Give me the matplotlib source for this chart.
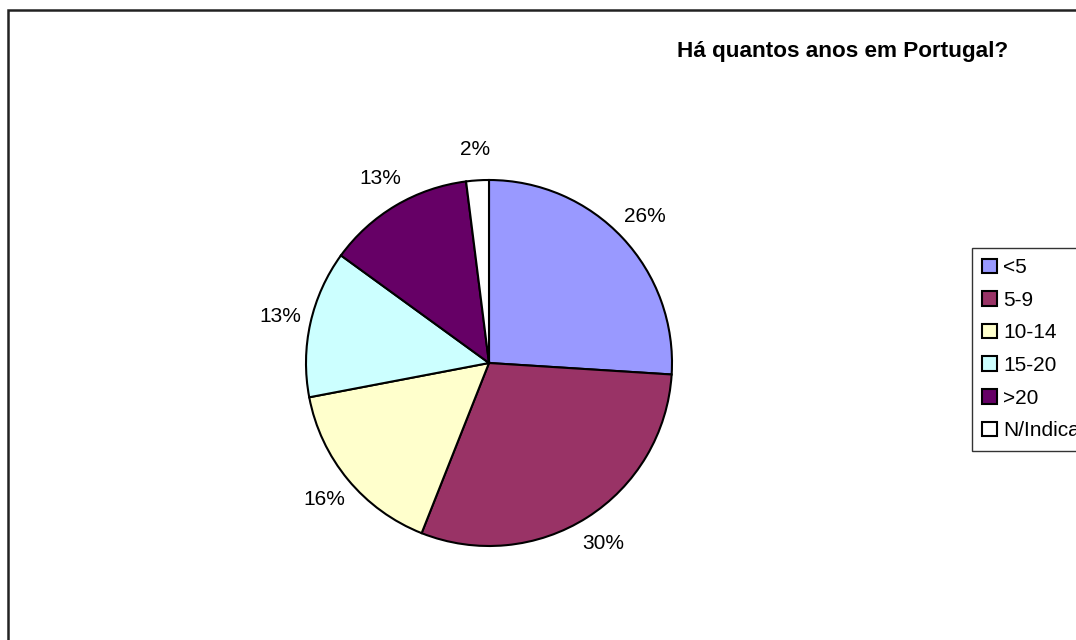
import matplotlib.pyplot as plt
from matplotlib.patches import Rectangle, Patch

plt.rcParams['font.family'] = ['Liberation Sans', 'DejaVu Sans']

categories = ['<5', '5-9', '10-14', '15-20', '>20', 'N/Indicado']
shares = [26, 30, 16, 13, 13, 2]
colors = ['#9999FF', '#993366', '#FFFFCC', '#CCFFFF', '#660066', '#FFFFFF']

W, H = 1076, 640
fig = plt.figure(figsize=(W / 100, H / 100), dpi=100)

# chart area border, running off the right and bottom edges
fig.patches.append(Rectangle((8 / W, -0.1), 1.2, 1 - 10 / H + 0.1,
                             transform=fig.transFigure, fill=False,
                             edgecolor='#222222', linewidth=1.8, zorder=0))

# pie centred at (489, 363) px with radius 183 px
cx, cy, r = 489, 363, 183
ax = fig.add_axes([(cx - r) / W, (H - cy - r) / H, 2 * r / W, 2 * r / H])
wedges, texts, autotexts = ax.pie(
    shares, colors=colors, startangle=90, counterclock=False,
    autopct=lambda p: f'{p:.0f}%', pctdistance=1.17,
    wedgeprops=dict(edgecolor='black', linewidth=1.5),
    textprops=dict(fontsize=15, color='black'))
for t in autotexts:
    t.set_clip_on(False)
ax.set_xlim(-1, 1)
ax.set_ylim(-1, 1)
ax.axis('off')

fig.text(843 / W, 1 - 52 / H, 'Há quantos anos em Portugal?',
         fontsize=16.2, fontweight='bold', ha='center', va='center')

handles = [Patch(facecolor=c, edgecolor='black', linewidth=1.5) for c in colors]
leg = fig.legend(handles, categories, loc='upper left',
                 bbox_to_anchor=(972 / W, 1 - 248 / H),
                 fontsize=15, frameon=True, fancybox=False, shadow=False,
                 handlelength=0.7, handleheight=0.7, handletextpad=0.3,
                 labelspacing=0.65, borderpad=0.5, borderaxespad=0)
leg.get_frame().set_edgecolor('black')
leg.get_frame().set_linewidth(1.0)

fig.savefig('out.png', dpi=100)
